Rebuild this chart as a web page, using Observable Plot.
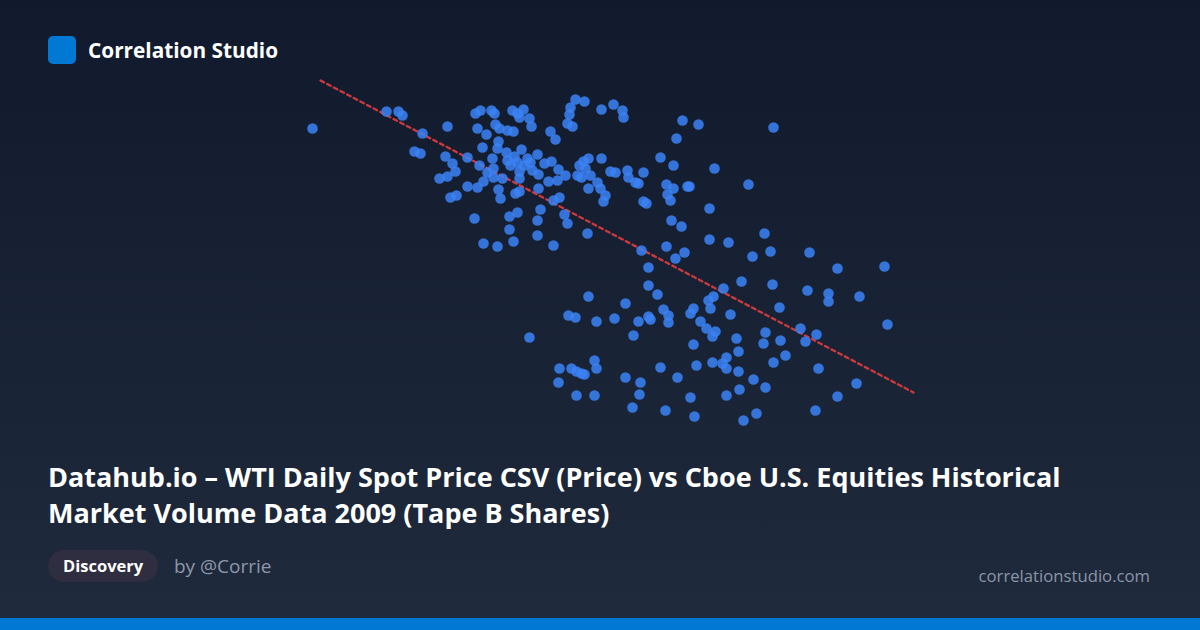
<!DOCTYPE html>
<html>
<head>
<meta charset="utf-8">
<script src="https://cdn.jsdelivr.net/npm/d3@7"></script>
<script src="https://cdn.jsdelivr.net/npm/@observablehq/plot@0.6"></script>
<style>
  html, body { margin: 0; padding: 0; }
  body { width: 1200px; height: 630px; overflow: hidden; }
  #card {
    position: relative; width: 1200px; height: 630px; overflow: hidden;
    background: linear-gradient(180deg, #111a2d 0%, #1f2a3c 100%);
    font-family: "Open Sans", "Noto Sans", sans-serif;
  }
  #logo { position: absolute; left: 48px; top: 36px; width: 28px; height: 28px; border-radius: 5px; background: #0078d4; }
  #brand { position: absolute; left: 88px; top: 36px; line-height: 28px; font-size: 20.8px; font-weight: 700; color: #ffffff; white-space: nowrap; }
  #chart { position: absolute; left: 0; top: 70px; }
  #title { position: absolute; left: 48px; top: 459px; width: 1120px; font-size: 27px; line-height: 36px; font-weight: 700; color: #ffffff; white-space: nowrap; }
  #pill { position: absolute; left: 48px; top: 550px; height: 32px; padding: 0 15px; border-radius: 16px; background: #2f2d40; color: #fff; font-size: 16.5px; font-weight: 700; line-height: 32px; }
  #by { position: absolute; left: 174px; top: 550px; line-height: 32px; font-size: 19px; color: #8e97aa; }
  #site { position: absolute; right: 50px; top: 560px; line-height: 32px; font-size: 16.7px; color: #8b95a8; }
  #bar { position: absolute; left: 0; bottom: 0; width: 1200px; height: 12px; background: #0078d4; }
</style>
</head>
<body>
<div id="card">
  <div id="logo"></div>
  <div id="brand"></div>
  <div id="chart"></div>
  <div id="title"></div>
  <div id="pill"></div>
  <div id="by"></div>
  <div id="site"></div>
  <div id="bar"></div>
</div>
<script>
// Texts
const brandText = "Correlation Studio";
const titleLines = ["Datahub.io – WTI Daily Spot Price CSV (Price) vs Cboe U.S. Equities Historical", "Market Volume Data 2009 (Tape B Shares)"];
const tagText = "Discovery";
const authorText = "by @Corrie";
const siteText = "correlationstudio.com";

// WTI spot price (USD) per observation
const price = [33.96,39.88,40.84,41.16,42.76,44.76,42.12,42.6,44.6,45.16,
45.4,44.76,44.12,46.36,47.32,47.56,47.16,47,47.4,48.28,
48.52,48.6,48.92,49.56,50.04,47.88,48.84,48.76,49.48,50.68,
50.12,48.36,49.56,50.36,51.16,51.4,51.96,52.52,53.08,50.92,
49.8,50.52,51.56,52.04,53.64,54.2,53.56,52.84,48.44,47.96,
48.44,49.16,47.64,47.16,46.36,48.84,50.2,50.52,50.52,52.04,
45,45.48,49,53.24,53.72,49.96,50.36,50.84,50.52,51.32,
51.48,53,53.4,54.6,54.52,54.36,54.76,55,55.72,57.08,
58.04,58.76,58.84,63.56,64.84,70.84,63.08,61.8,62.84,57.08,
56.04,55.64,55.32,55.8,55.16,55.48,56.2,57.8,58.2,59.16,
59.24,60.44,59.8,60.04,56.04,56.76,57,57.4,57.24,60.44,
60.68,62.28,62.84,62.36,62.6,63.96,66.12,64.12,68.84,52.2,
54.12,50.36,49.72,46.92,51.96,49.72,50.04,47.64,48.76,51.96,
53.24,54.36,55.96,62.68,60.28,62.28,60.84,60.84,61.56,56.04,
59,62.04,62.44,60.84,61,60.04,58.12,56.68,54.44,55,
51.32,59.64,62.44,65.72,63.48,70.12,65.72,67.24,63.72,63,
69.16,70.6,73.72,75.96,79.72,68.28,70.76,73.56,75.24,75.24,
77.72,66.84,66.04,65.64,65.8,64.44,64.2,67.4,71.32,65,
65.48,66.2,65.96,67.88,70.2,73,74.28,79.96,71.4,53.72,
54.68,55.08,55.48,55.72,56.52,56.68,53.64,55.08,56.52,59,
60.2,60.12,59.56,62.2,61.8,63.16,64.2,64.52,64.44,64.68,
65.96,70.04,73.4,71.8,70.84,68.04,67.08,66.76,67.08,68.04,
74.44,69.24,70.2,68.12,67.08,77.48,75.96,74.2,69.48,68.44];

// Tape B volume (millions of shares) per observation
const volume = [744,778,778,770,734,748,698,694,688,674,
658,648,644,686,670,706,744,774,780,780,
774,752,744,740,738,732,718,704,696,702,
688,684,680,676,684,676,692,674,678,670,
670,658,660,652,662,650,640,638,664,656,
646,644,638,626,628,622,614,618,644,624,
606,610,604,600,606,780,774,782,766,764,
748,738,722,786,772,754,748,802,798,782,
792,780,766,760,752,746,724,686,670,684,
684,678,670,664,650,646,650,658,656,660,
646,656,636,634,624,636,624,610,598,598,
594,632,624,612,600,628,664,628,632,582,
572,576,568,564,560,542,518,514,508,530,
510,554,534,560,500,508,466,430,412,408,
394,382,370,368,362,358,364,358,370,366,
326,330,356,584,548,534,522,516,496,484,
488,498,496,464,468,438,432,420,414,398,
408,424,408,400,384,384,374,372,386,358,
344,338,328,324,336,344,332,352,320,264,
264,258,254,252,280,264,236,210,210,246,
236,212,186,180,266,246,206,168,312,270,
276,314,318,290,276,298,286,274,264,258,
264,242,226,222,210,234,208,180,174,160];

// Trend line end points
const trendPrice = [34.6, 82.04];
const trendVolume = [840, 216];

document.getElementById("brand").textContent = brandText;
const t = document.getElementById("title");
t.innerHTML = "";
titleLines.forEach((l, i) => { if (i) t.appendChild(document.createElement("br")); t.appendChild(document.createTextNode(l)); });
document.getElementById("pill").textContent = tagText;
document.getElementById("by").textContent = authorText;
document.getElementById("site").textContent = siteText;

const points = price.map((p, i) => ({price: p, volume: volume[i]}));
const trend = trendPrice.map((p, i) => ({price: p, volume: trendVolume[i]}));

const chart = Plot.plot({
  width: 1200,
  height: 370,
  margin: 0,
  style: {background: "transparent", overflow: "visible"},
  x: {domain: [9, 105], axis: null},
  y: {domain: [120, 860], axis: null},
  marks: [
    Plot.line(trend, {x: "price", y: "volume", stroke: "#cc3a3e", strokeWidth: 2.3, strokeDasharray: "4,3.5"}),
    Plot.dot(points, {x: "price", y: "volume", r: 5.3, fill: "#3b82f6", fillOpacity: 0.85, stroke: "none"})
  ]
});
document.getElementById("chart").appendChild(chart);
</script>
</body>
</html>
